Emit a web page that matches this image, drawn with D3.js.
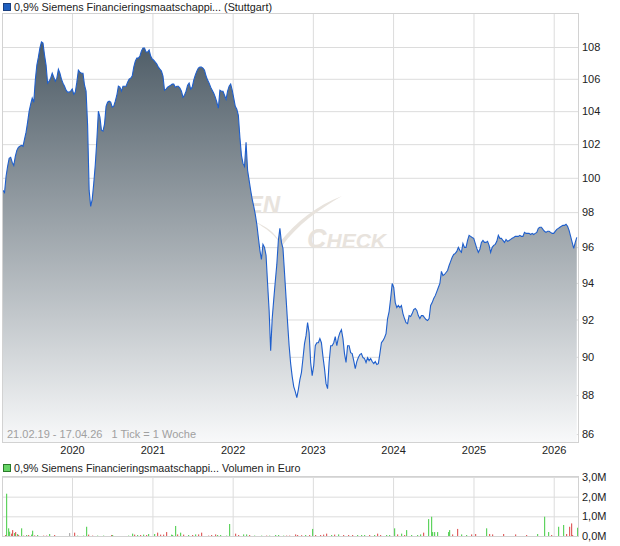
<!DOCTYPE html>
<html><head><meta charset="utf-8">
<script src="https://cdn.jsdelivr.net/npm/d3@7"></script>
<style>body{margin:0;background:#fff} svg{display:block;font-family:"Liberation Sans",Arial,sans-serif}</style>
</head><body><svg id="c" width="620" height="546"></svg>
<script>
// ---------- DATA ----------
const titleMain = "0,9% Siemens Financieringsmaatschappi... (Stuttgart)";
const titleVol = "0,9% Siemens Financieringsmaatschappi... Volumen in Euro";
const infoText = "21.02.19 - 17.04.26   1 Tick = 1 Woche";
const startDate = "2019-02-21";
const endDate = "2026-04-17";
// weekly closing prices (1 tick = 1 week)
const prices = [
99.26,99.14,100.09,100.67,101.15,101.21,100.91,100.73,101.27,101.63,
101.81,101.87,101.93,101.87,102.30,102.72,103.33,104.00,104.43,104.80,
104.55,105.92,106.86,107.36,107.94,108.32,108.25,107.49,106.86,105.73,
105.85,106.04,106.35,106.10,105.85,106.04,106.60,106.35,105.98,105.73,
105.54,105.29,105.17,105.17,105.23,105.36,105.04,105.17,105.79,106.54,
106.42,106.35,106.35,105.60,105.23,103.15,99.26,98.33,98.74,99.68,
100.79,102.23,104.00,103.63,102.84,102.78,103.21,104.30,104.55,104.61,
104.55,104.24,104.30,104.61,104.98,105.54,105.48,105.23,105.54,105.54,
105.54,105.79,105.98,106.04,106.17,106.73,107.11,107.30,107.30,107.43,
107.75,107.94,107.94,107.68,107.68,107.81,107.43,107.24,107.17,107.05,
106.92,106.73,106.60,106.48,106.17,105.29,105.36,105.48,105.54,105.60,
105.67,105.67,105.48,105.54,105.54,105.42,105.23,104.86,104.98,105.23,
105.60,105.73,105.36,105.48,105.92,106.23,106.48,106.67,106.73,106.73,
106.67,106.54,106.17,105.92,105.73,105.48,105.29,105.11,104.86,104.55,
104.18,105.29,105.23,105.23,104.98,104.73,105.23,105.54,105.67,105.29,
104.80,104.30,104.12,103.75,102.42,101.33,100.85,100.67,102.11,100.44,
99.85,99.26,98.74,98.33,97.87,97.30,96.55,95.82,95.31,96.16,
95.99,95.54,93.97,92.49,90.33,92.05,93.08,94.08,95.03,96.38,
97.07,96.27,95.93,94.58,93.19,91.83,90.59,89.64,88.96,88.44,
88.18,87.87,88.28,88.80,89.17,89.91,90.70,91.13,91.83,91.29,
89.70,89.01,89.54,90.59,90.75,90.75,90.97,90.75,90.01,89.38,
88.59,88.33,89.70,90.59,90.59,90.75,91.08,90.59,91.02,91.29,
91.45,90.97,90.17,89.70,90.59,90.59,90.22,90.17,89.80,89.38,
89.75,89.96,90.12,90.17,89.96,89.91,89.70,89.96,89.80,89.91,
89.75,89.64,89.75,89.59,89.64,90.17,90.75,90.86,91.02,91.24,
92.05,92.43,93.14,93.97,93.75,92.92,92.65,92.76,92.65,92.76,
92.32,92.05,91.83,91.78,92.21,92.16,92.32,92.54,92.60,92.49,
92.21,92.05,92.21,92.21,92.10,92.00,91.94,92.05,92.76,92.92,
93.14,93.30,93.52,93.75,93.97,94.64,94.41,94.47,94.58,94.69,
94.97,95.20,95.43,95.59,95.65,95.76,95.99,95.82,95.71,96.21,
95.99,95.99,96.38,96.67,96.61,96.55,96.50,96.21,95.93,95.71,
95.88,96.27,96.38,96.27,96.27,96.33,96.10,95.71,95.99,96.10,
96.16,96.33,96.67,96.50,96.50,96.38,96.27,96.44,96.33,96.38,
96.44,96.50,96.55,96.61,96.61,96.61,96.67,96.61,96.61,96.84,
96.78,96.78,96.78,96.72,96.78,96.72,96.78,96.84,97.07,97.13,
97.13,97.01,96.90,96.84,96.90,96.90,96.84,96.78,96.78,96.90,
97.01,97.07,97.13,97.19,97.24,97.24,97.30,97.19,96.95,96.61,
96.27,95.93,96.27,96.55
];
// weekly volume (in million euro), sparse: week index, value, direction (1 up, -1 down, 0 unchanged)
const volWeeks = [1,2,3,4,5,6,7,8,9,10,12,13,15,16,18,19,20,22,26,28,30,33,43,46,48,52,54,55,58,61,65,70,71,81,84,85,87,89,91,93,94,98,100,102,104,106,109,110,112,113,115,117,120,123,125,127,129,133,135,138,139,141,145,147,151,153,156,158,160,163,168,171,173,177,179,182,184,186,190,191,194,196,199,201,203,206,208,210,213,215,218,221,224,227,230,233,235,238,241,243,245,249,251,254,256,259,261,262,265,269,271,273,276,278,279,280,282,289,290,292,295,298,301,304,307,314,316,318,325,333,340,347,352,354,356,361,364,366,368,369,370,373];
const volValues = [0.05,2.15,0.39,0.22,0.12,0.30,0.15,0.20,0.10,0.05,0.39,0.02,0.05,0.05,0.07,0.27,0.03,0.05,0.02,0.02,0.10,0.05,0.15,0.17,0.02,0.02,0.47,0.07,0.02,0.02,0.02,0.05,0.05,0.02,0.12,0.07,0.05,0.05,0.07,0.05,0.10,0.10,0.17,0.07,0.07,0.20,0.07,0.05,0.51,0.08,0.17,0.07,0.05,0.05,0.08,0.08,0.17,0.02,0.05,0.08,0.05,0.05,0.02,0.61,0.12,0.05,0.08,0.08,0.05,0.02,0.02,0.02,0.02,0.05,0.05,0.02,0.02,0.02,0.08,0.05,0.04,0.05,0.05,0.36,0.05,0.05,0.07,0.12,0.05,0.07,0.08,0.05,0.05,0.05,0.05,0.05,0.05,0.05,0.05,0.12,0.05,0.05,0.05,0.39,0.08,0.12,0.05,0.30,0.05,0.05,0.08,0.17,0.86,0.98,0.20,0.20,0.20,0.20,0.30,0.08,0.36,0.08,0.05,0.08,0.10,0.39,0.10,0.08,0.10,0.08,0.05,0.10,0.98,0.20,0.05,0.47,0.56,0.10,0.47,0.64,0.05,0.42];
const volDir = [-1,1,1,1,-1,-1,1,-1,1,-1,1,-1,1,-1,1,1,-1,1,-1,-1,1,-1,0,-1,1,1,1,-1,-1,1,1,-1,1,1,1,-1,1,-1,1,-1,1,1,-1,-1,-1,-1,1,1,1,-1,1,-1,1,-1,1,-1,-1,-1,-1,-1,1,1,1,1,-1,-1,1,1,-1,1,1,-1,1,1,1,1,-1,-1,-1,-1,-1,1,-1,1,-1,-1,-1,-1,1,-1,1,-1,-1,-1,1,1,1,-1,1,-1,-1,1,1,1,-1,1,-1,1,1,1,1,-1,1,1,1,1,1,1,1,-1,-1,1,1,-1,-1,1,-1,-1,-1,-1,-1,1,1,1,-1,1,1,-1,-1,-1,-1,1];
const priceTicks = [86,88,90,92,94,96,98,100,102,104,106,108];
const volTicks = [0,1,2,3];
const yearTicks = [2020,2021,2022,2023,2024,2025,2026];

// ---------- CHART ----------
const svg = d3.select("#c");
const parse = d3.utcParse("%Y-%m-%d");
const t0 = parse(startDate), t1 = parse(endDate);
const data = prices.map((p,i)=>({date:d3.utcDay.offset(t0,7*i), value:p}));
const L = 3, R = 578, T = 14, B = 442;
const x = d3.scaleUtc().domain([t0,t1]).range([L,577]);
const y = d3.scaleLog().domain([85.6,110.12]).range([B,T]);
const yearDates = yearTicks.map(yr=>new Date(Date.UTC(yr,0,1)));
const gridC = "#dcdcdc", frameC = "#d2d2d2", txtC = "#222";
const FF = "Liberation Sans, Arial, sans-serif";

// legend main
svg.append("rect").attr("x",3.5).attr("y",3.5).attr("width",7).attr("height",7).attr("fill","#1f5fbf").attr("stroke","#1a3f80");
svg.append("text").attr("x",14).attr("y",11).attr("font-size",10.8).attr("fill",txtC).text(titleMain);

// grid
const g = svg.append("g");
g.append("g").attr("transform",`translate(${R},0)`)
  .call(d3.axisLeft(y).tickValues(priceTicks).tickSize(R-L).tickFormat(""))
  .call(s=>{s.select(".domain").remove(); s.selectAll("line").attr("stroke",gridC);});
g.append("g").attr("transform",`translate(0,${B})`)
  .call(d3.axisTop(x).tickValues(yearDates).tickSize(B-T).tickFormat(""))
  .call(s=>{s.select(".domain").remove(); s.selectAll("line").attr("stroke",gridC);});

// watermark
const wm = svg.append("g").attr("fill","#e8e3dd");
wm.append("text").attr("x",280).attr("y",213).attr("text-anchor","end").attr("font-size",24).attr("font-weight","bold").attr("font-style","italic").text("FINANZEN");
const wt = wm.append("text").attr("x",307).attr("y",248).attr("font-weight","bold").attr("font-style","italic");
wt.append("tspan").attr("font-size",27).text("C");
wt.append("tspan").attr("font-size",21).text("HECK");
wm.append("path").attr("d","M255,222 C266,226 274,232 280,242 C296,222 316,206 342,196 C318,210 298,224 282,246 C276,236 266,228 255,222 Z");

// area
const defs = svg.append("defs");
const grad = defs.append("linearGradient").attr("id","ag").attr("gradientUnits","userSpaceOnUse")
  .attr("x1",0).attr("y1",T).attr("x2",0).attr("y2",B);
grad.append("stop").attr("offset","0").attr("stop-color","#42515c");
grad.append("stop").attr("offset","1").attr("stop-color","#f8f9fa");
svg.append("path").datum(data)
  .attr("d",d3.area().x(d=>x(d.date)).y0(B).y1(d=>y(d.value)))
  .attr("fill","url(#ag)");
svg.append("path").datum(data)
  .attr("d",d3.line().x(d=>x(d.date)).y(d=>y(d.value)))
  .attr("fill","none").attr("stroke","#1f5fcc").attr("stroke-width",1.1);

// frame
svg.append("rect").attr("x",L-0.5).attr("y",T-0.5).attr("width",R-L+1).attr("height",B-T+1).attr("fill","none").attr("stroke",frameC);

// axes labels
svg.append("g").attr("transform",`translate(${R},0)`)
  .call(d3.axisRight(y).tickValues(priceTicks).tickSize(0).tickPadding(4).tickFormat(d3.format("d")))
  .call(s=>{s.select(".domain").remove(); s.selectAll("text").attr("font-size",11).attr("fill",txtC).attr("font-family",FF);});
svg.append("g").attr("transform",`translate(0,${B})`)
  .call(d3.axisBottom(x).tickValues(yearDates).tickSize(0).tickPadding(4).tickFormat(d3.utcFormat("%Y")))
  .call(s=>{s.select(".domain").remove(); s.selectAll("text").attr("font-size",11).attr("fill",txtC).attr("font-family",FF);});
svg.append("text").attr("x",7).attr("y",438).attr("font-size",11).attr("fill","#a0a0a0").attr("xml:space","preserve").text(infoText);

// ---------- VOLUME ----------
const VT = 477, VB = 536;
const yv = d3.scaleLinear().domain([0,3]).range([VB,VT]);
svg.append("rect").attr("x",3.5).attr("y",464.5).attr("width",7).attr("height",7).attr("fill","#66d466").attr("stroke","#2a7a2a");
svg.append("text").attr("x",14).attr("y",472).attr("font-size",10.7).attr("fill",txtC).text(titleVol);
svg.append("g").attr("transform",`translate(${R},0)`)
  .call(d3.axisLeft(yv).tickValues(volTicks).tickSize(R-L).tickFormat(""))
  .call(s=>{s.select(".domain").remove(); s.selectAll("line").attr("stroke",gridC);});
svg.append("g").attr("transform",`translate(0,${VB})`)
  .call(d3.axisTop(x).tickValues(yearDates).tickSize(VB-VT).tickFormat(""))
  .call(s=>{s.select(".domain").remove(); s.selectAll("line").attr("stroke",gridC);});
const vcol = d=> d>0 ? "#5fd35f" : (d<0 ? "#e06060" : "#b0b0b0");
svg.append("g").selectAll("rect").data(volWeeks.map((w,i)=>({date:d3.utcDay.offset(t0,7*w), v:volValues[i], dir:volDir[i]})))
  .join("rect")
  .attr("x",d=>Math.round(x(d.date)))
  .attr("width",1.2)
  .attr("y",d=>yv(d.v))
  .attr("height",d=>VB-yv(d.v))
  .attr("fill",d=>vcol(d.dir));
svg.append("rect").attr("x",L-0.5).attr("y",VT-0.5).attr("width",R-L+1).attr("height",VB-VT+1).attr("fill","none").attr("stroke",frameC);
svg.append("g").attr("transform",`translate(${R},0)`)
  .call(d3.axisRight(yv).tickValues(volTicks).tickSize(0).tickPadding(4).tickFormat(v=>d3.format(".1f")(v).replace(".",",")+"M"))
  .call(s=>{s.select(".domain").remove(); s.selectAll("text").attr("font-size",11).attr("fill",txtC).attr("font-family",FF);});
</script></body></html>
